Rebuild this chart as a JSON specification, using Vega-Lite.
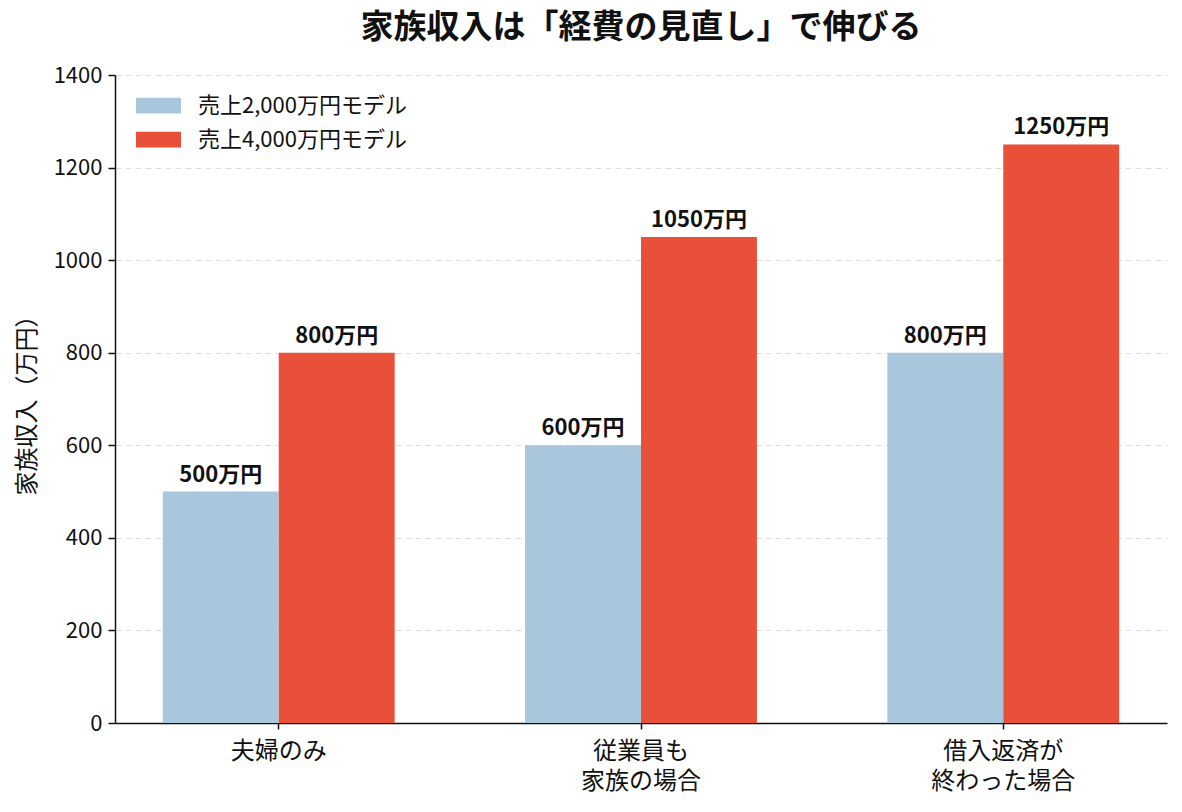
{
  "$schema": "https://vega.github.io/schema/vega-lite/v6.json",
  "autosize": "none",
  "width": 1052,
  "height": 648,
  "padding": {"left": 115, "top": 75, "right": 15, "bottom": 89},
  "background": "white",
  "config": {
    "font": "Noto Sans CJK JP",
    "view": {"stroke": null}
  },
  "title": {
    "text": "家族収入は「経費の見直し」で伸びる",
    "fontSize": 33,
    "fontWeight": "bold",
    "color": "#111111",
    "anchor": "middle",
    "offset": 19
  },
  "data": {
    "values": [
      {"case": "夫婦のみ", "model": "売上2,000万円モデル", "income": 500, "label": "500万円"},
      {"case": "夫婦のみ", "model": "売上4,000万円モデル", "income": 800, "label": "800万円"},
      {"case": "従業員も\n家族の場合", "model": "売上2,000万円モデル", "income": 600, "label": "600万円"},
      {"case": "従業員も\n家族の場合", "model": "売上4,000万円モデル", "income": 1050, "label": "1050万円"},
      {"case": "借入返済が\n終わった場合", "model": "売上2,000万円モデル", "income": 800, "label": "800万円"},
      {"case": "借入返済が\n終わった場合", "model": "売上4,000万円モデル", "income": 1250, "label": "1250万円"}
    ]
  },
  "encoding": {
    "x": {
      "field": "case",
      "type": "nominal",
      "sort": null,
      "scale": {"paddingInner": 0.36, "paddingOuter": 0.132},
      "axis": {
        "title": null,
        "labelAngle": 0,
        "labelFontSize": 24,
        "labelColor": "#111111",
        "labelExpr": "split(datum.label, '\\n')",
        "labelLineHeight": 30,
        "labelPadding": 10,
        "domainColor": "#111111",
        "domainWidth": 1.5,
        "tickColor": "#111111",
        "tickWidth": 1.5,
        "tickSize": 6,
        "grid": false
      }
    },
    "xOffset": {"field": "model", "type": "nominal", "sort": ["売上2,000万円モデル", "売上4,000万円モデル"]},
    "y": {
      "field": "income",
      "type": "quantitative",
      "scale": {"domain": [0, 1400], "nice": false},
      "axis": {
        "title": "家族収入（万円）",
        "titleFontSize": 24,
        "titleFontWeight": "normal",
        "titleColor": "#111111",
        "titlePadding": 14,
        "format": "d",
        "values": [0, 200, 400, 600, 800, 1000, 1200, 1400],
        "labelFontSize": 22,
        "labelColor": "#111111",
        "labelPadding": 6,
        "domainColor": "#111111",
        "domainWidth": 1.5,
        "tickColor": "#111111",
        "tickWidth": 1.5,
        "tickSize": 7,
        "grid": true,
        "gridColor": "#dddddd",
        "gridDash": [6, 4],
        "gridWidth": 1
      }
    }
  },
  "layer": [
    {
      "mark": {"type": "bar"},
      "encoding": {
        "color": {
          "field": "model",
          "type": "nominal",
          "sort": ["売上2,000万円モデル", "売上4,000万円モデル"],
          "scale": {"range": ["#a8c6dc", "#e8503a"]},
          "legend": {
            "title": null,
            "orient": "none",
            "legendX": 21,
            "legendY": 8,
            "symbolType": "M-1,-0.35L1,-0.35L1,0.35L-1,0.35Z",
            "symbolSize": 2025,
            "symbolStrokeWidth": 0,
            "labelFontSize": 22,
            "labelLimit": 400,
            "labelColor": "#111111",
            "labelOffset": 17,
            "rowPadding": -9,
            "padding": 0
          }
        }
      }
    },
    {
      "mark": {"type": "text", "baseline": "bottom", "dy": -5, "fontSize": 22, "fontWeight": "bold", "color": "#111111"},
      "encoding": {
        "text": {"field": "label"}
      }
    }
  ]
}
